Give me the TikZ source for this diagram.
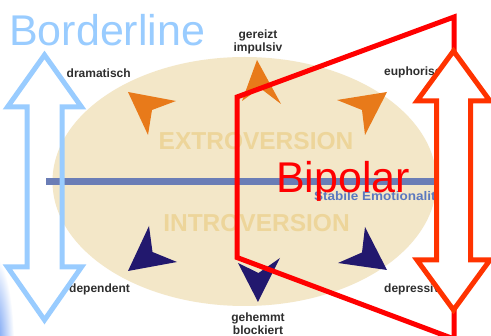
\documentclass[tikz,border=0pt]{standalone}
\usepackage{fontspec}
\setmainfont{Liberation Sans}
\definecolor{beige}{HTML}{F3E7C8}
\definecolor{dartorange}{HTML}{E87A1A}
\definecolor{dartnavy}{HTML}{22186E}
\definecolor{axisblue}{HTML}{6A7DB6}
\definecolor{faintgold}{HTML}{EDD59A}
\definecolor{labelgray}{HTML}{2E2E2E}
\definecolor{lightblue}{HTML}{99CCFF}
\definecolor{arrowred}{HTML}{FF3300}
\definecolor{glowblue}{HTML}{4A84F0}
\definecolor{stabblue}{HTML}{5B78BF}
\tikzset{
  lbl/.style={inner sep=0pt, font=\fontsize{12}{12}\selectfont\bfseries, text=labelgray},
  faint/.style={inner sep=0pt, font=\fontsize{24.5}{24.5}\selectfont\bfseries, text=faintgold},
  bigtitle/.style={inner sep=0pt, font=\fontsize{43}{43}\selectfont},
  orangedart/.style={fill=dartorange},
  navydart/.style={fill=dartnavy},
  hollowarrow/.style={line width=5pt, line join=miter},
}
\begin{document}
\begin{tikzpicture}[x=1pt,y=-1pt]
\useasboundingbox (0,0) rectangle (491,336);
\fill[white] (0,0) rectangle (491,336);
% blue glow bottom-left
\begin{scope}
  \clip (0,220) rectangle (30,336);
  \shade[inner color=glowblue, outer color=white] (-8,345) ellipse [x radius=22, y radius=90];
\end{scope}
% ellipse
\fill[beige] (244.5,181.5) ellipse [x radius=192, y radius=124.5];
% darts
\fill[orangedart] (128,92) -- (176,101) -- (152,110) -- (148,135) -- cycle;
\fill[orangedart] (257,60) -- (281,104) -- (260,88) -- (242,101) -- cycle;
\fill[orangedart] (387,92) -- (365,135) -- (362,110) -- (337,100) -- cycle;
\fill[navydart] (128,271) -- (149,226) -- (152.5,252) -- (177,262) -- cycle;
\fill[navydart] (258,302) -- (238,263) -- (258.5,273) -- (280,258) -- cycle;
\fill[navydart] (387,270) -- (365,227) -- (362,252.5) -- (338,263) -- cycle;
% labels
\node[lbl, anchor=base west] (dram) at (66.5,78) {dramatisch};
\node[lbl, anchor=base] (ger) at (258,39) {gereizt};
\node[lbl, anchor=base] (imp) at (258,52) {impulsiv};
\node[lbl, anchor=base west] (euph) at (384,76) {euphorisch};
\node[lbl, anchor=base west] (dep) at (69,293) {dependent};
\node[lbl, anchor=base] (geh) at (258,322) {gehemmt};
\node[lbl, anchor=base] (block) at (258,334.5) {blockiert};
\node[lbl, anchor=base west] (depr) at (384,293) {depressiv};
% axis
\draw[axisblue, line width=7pt] (46,182) -- (440,182);
\node[faint, anchor=base] (extro) at (256,150) {EXTROVERSION};
\node[faint, anchor=base] (intro) at (256.5,232) {INTROVERSION};
\node[inner sep=0pt, anchor=base west, text=stabblue, font=\fontsize{12.5}{12.5}\selectfont\bfseries] (stab) at (314,201) {\scalebox{1.08}[1]{Stabile Emotionalität}};
% red trapezoid
\draw[red, line width=5pt, line join=miter] (454,17) -- (237,97) -- (237,257.5) -- (454,339) -- cycle;
\node[bigtitle, anchor=base west, text=red] (bip) at (276,193) {Bipolar};
% red double arrow
\draw[arrowred, hollowarrow, fill=white] (453.5,51) -- (490,101) -- (470.5,101) -- (470.5,260) -- (490,260) -- (453.5,310) -- (417,260) -- (436.5,260) -- (436.5,101) -- (417,101) -- cycle;
% blue double arrow
\draw[lightblue, hollowarrow] (44.5,55) -- (81.5,107) -- (62,107) -- (62,267) -- (81.5,267) -- (44.5,320) -- (7.5,267) -- (27,267) -- (27,107) -- (7.5,107) -- cycle;
\node[bigtitle, anchor=base west, text=lightblue] (border) at (9,46) {Borderline};
\end{tikzpicture}
\end{document}
